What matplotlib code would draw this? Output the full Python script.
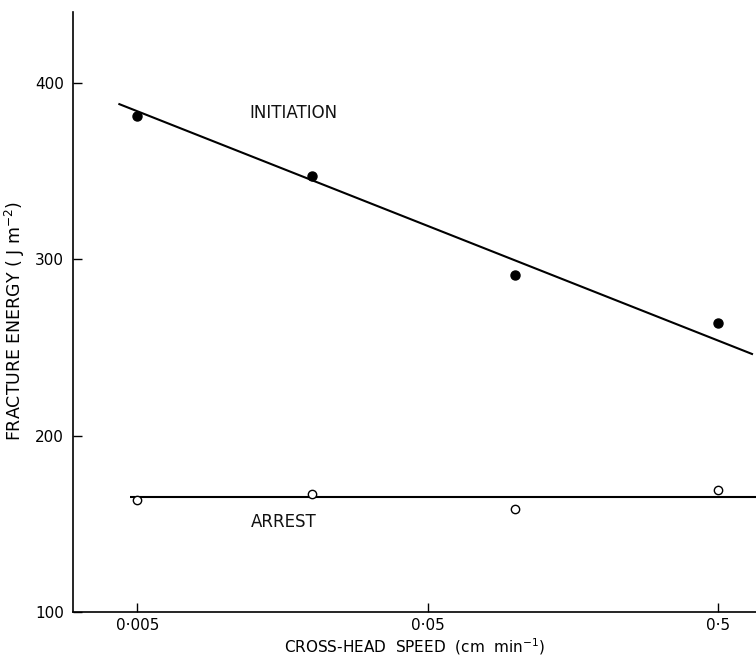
import matplotlib
matplotlib.use("Agg")
import matplotlib.pyplot as plt
from matplotlib.ticker import FixedLocator, FixedFormatter, NullLocator

# ---- data ----
speed = [0.005, 0.02, 0.1, 0.5]
initiation = [381, 347, 291, 264]
arrest = [163.5, 166.7, 158.2, 169.2]

init_fit_x = [0.0043, 0.66]
init_fit_y = [388, 246]
arrest_fit_x = [0.0047, 0.68]
arrest_fit_y = [165.3, 165.3]

xticks = [0.005, 0.05, 0.5]
xticklabels = ["0·005", "0·05", "0·5"]
yticks = [100, 200, 300, 400]
yticklabels = ["100", "200", "300", "400"]

plt.rcParams['font.family'] = ['DejaVu Sans']
plt.rcParams['mathtext.fontset'] = 'dejavusans'

fig = plt.figure(figsize=(7.56, 6.6), dpi=100)
ax = fig.add_axes([73/756, 48/660, 683/756, 600/660])
ax.set_xscale('log')
ax.set_xlim(0.0030, 0.676)
ax.set_ylim(100, 440)

ax.plot(init_fit_x, init_fit_y, color='black', lw=1.5, solid_capstyle='butt')
ax.plot(arrest_fit_x, arrest_fit_y, color='black', lw=1.5, solid_capstyle='butt')
ax.plot(speed, initiation, 'o', color='black', ms=6.5, zorder=3)
ax.plot(speed, arrest, 'o', mfc='white', mec='black', mew=1.0, ms=6, zorder=3)

ax.text(0.0173, 383, "INITIATION", fontsize=12, ha='center', va='center', color='#111111')
ax.text(0.0160, 151, "ARREST", fontsize=12, ha='center', va='center', color='#111111')

ax.spines['top'].set_visible(False)
ax.spines['right'].set_visible(False)
for s in ('left', 'bottom'):
    ax.spines[s].set_linewidth(1.2)

ax.xaxis.set_major_locator(FixedLocator(xticks))
ax.xaxis.set_major_formatter(FixedFormatter(xticklabels))
ax.xaxis.set_minor_locator(NullLocator())
ax.yaxis.set_major_locator(FixedLocator(yticks))
ax.yaxis.set_major_formatter(FixedFormatter(yticklabels))
ax.tick_params(axis='both', direction='in', length=6.5, width=1.0, labelsize=11)
ax.tick_params(axis='y', pad=6.5)
ax.tick_params(axis='x', pad=4)

ax.set_xlabel("CROSS-HEAD  SPEED  (cm  min$^{-1}$)", fontsize=11, va='center')
ax.xaxis.set_label_coords(0.5, -0.058)
ax.set_ylabel("FRACTURE ENERGY ( J m$^{-2}$)", fontsize=12.5, va='center')
ax.yaxis.set_label_coords(-0.085, 0.485)

fig.savefig("out.png", dpi=100)
